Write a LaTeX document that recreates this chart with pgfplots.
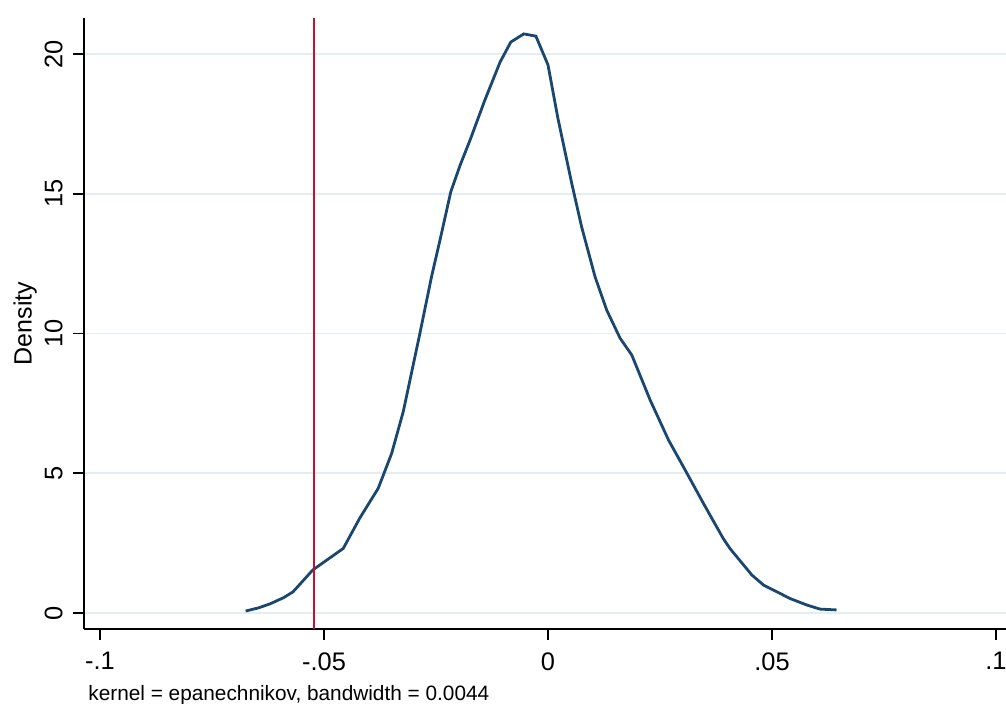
\documentclass[border=0pt]{standalone}
\usepackage{fontspec}
\setmainfont{Liberation Sans}
\usepackage{pgfplots}
\pgfplotsset{compat=1.18}
\definecolor{StataNavy}{RGB}{26,71,111}
\definecolor{StataRed}{RGB}{200,16,46}
\definecolor{GridBlue}{RGB}{228,238,241}

\begin{document}
\begin{tikzpicture}
  \begin{axis}[
    scale only axis,
    width=461pt, height=305.5pt,
    xmin=-0.10357, xmax=0.10223,
    ymin=-0.572, ymax=21.29,
    axis lines=left,
    axis line style={-, line width=0.8pt, black},
    tick style={line width=0.8pt, black},
    tick align=outside,
    major tick length=5.5pt,
    xtick={-0.1,-0.05,0,0.05,0.1},
    xticklabels={-.1,-.05,0,.05,.1},
    ytick={0,5,10,15,20},
    yticklabels={0,5,10,15,20},
    xticklabel style={font=\fontsize{12.7}{14}\selectfont, anchor=north, inner sep=0pt, yshift=-6pt},
    yticklabel style={font=\fontsize{12.7}{14}\selectfont, rotate=90, anchor=south, inner sep=0pt, yshift=5pt},
    ymajorgrids,
    grid style={GridBlue, line width=0.8pt},
    ylabel={Density},
    ylabel style={font=\fontsize{12.5}{14}\selectfont, at={(axis description cs:-0.0567,0.5)}, anchor=base},
    clip=false,
  ]
  \coordinate (sw) at (rel axis cs:0,0);
  % density curve
  \addplot[StataNavy, line width=1.4pt] coordinates {
    (-0.0675,0.07) (-0.0647,0.18) (-0.0620,0.33) (-0.0590,0.55) (-0.0569,0.76)
    (-0.0525,1.54) (-0.0457,2.31) (-0.0420,3.40) (-0.0379,4.46) (-0.0349,5.71)
    (-0.0323,7.21) (-0.0286,10.0) (-0.0260,12.03) (-0.0241,13.35) (-0.0217,15.07)
    (-0.0196,16.03) (-0.0174,16.92) (-0.0141,18.35) (-0.0107,19.71) (-0.0083,20.43)
    (-0.0054,20.72) (-0.0027,20.64) (0.0,19.61) (0.0022,17.71) (0.0053,15.37)
    (0.0075,13.82) (0.0105,12.03) (0.0131,10.84) (0.0161,9.83) (0.0187,9.23)
    (0.0228,7.62) (0.0269,6.19) (0.0306,5.12) (0.0347,3.92) (0.0391,2.67)
    (0.0406,2.31) (0.0455,1.36) (0.0481,1.00) (0.0518,0.70) (0.0540,0.52)
    (0.0577,0.29) (0.0607,0.14) (0.0644,0.11)
  };
  % reference line
  \addplot[StataRed, line width=1.1pt] coordinates {(-0.0522,-0.572) (-0.0522,21.29)};
  \end{axis}
  \node[anchor=base west, inner sep=0pt, font=\fontsize{10.4}{12}\selectfont]
    at ([shift={(2pt,-36pt)}]sw) {kernel = epanechnikov, bandwidth = 0.0044};
  \pgfresetboundingbox
  \useasboundingbox ([shift={(-42pt,-37.5pt)}]sw) rectangle ([shift={(461pt,314.5pt)}]sw);
\end{tikzpicture}
\end{document}
